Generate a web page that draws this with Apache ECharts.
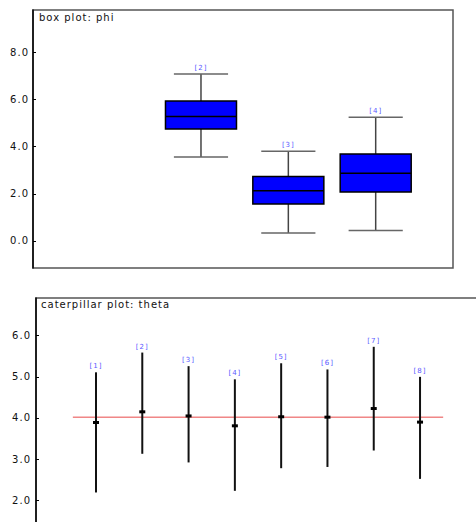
<!DOCTYPE html>
<html><head><meta charset="utf-8">
<script src="https://cdn.jsdelivr.net/npm/echarts@6/dist/echarts.min.js"></script>
<style>
html,body{margin:0;padding:0;background:#fff;}
#c{width:476px;height:522px;}
#c text{letter-spacing:1px;}
</style></head><body><div id="c"></div>
<script>
// box plot: phi
const boxIds = [2, 3, 4];
const boxLow = [3.56, 0.34, 0.44];
const boxQ1 = [4.75, 1.57, 2.08];
const boxMed = [5.28, 2.13, 2.87];
const boxQ3 = [5.93, 2.73, 3.69];
const boxHigh = [7.08, 3.80, 5.24];
const boxTicks = [0, 2, 4, 6, 8];

// caterpillar plot: theta
const catIds = [1, 2, 3, 4, 5, 6, 7, 8];
const catMean = [3.89, 4.15, 4.05, 3.81, 4.03, 4.02, 4.23, 3.90];
const catLow = [2.19, 3.13, 2.92, 2.23, 2.78, 2.81, 3.21, 2.52];
const catHigh = [5.11, 5.59, 5.26, 4.94, 5.33, 5.18, 5.73, 5.00];
const catTicks = [2, 3, 4, 5, 6];
const overallMean = 4.02;

const FONT = 'DejaVu Sans';
const LABEL_BLUE = '#5a5aff';

const chart = echarts.init(document.getElementById('c'), null, {renderer: 'svg'});

function renderBox(params, api) {
  const x = api.value(0);
  const pLow = api.coord([x, api.value(1)]);
  const pQ1 = api.coord([x, api.value(2)]);
  const pMed = api.coord([x, api.value(3)]);
  const pQ3 = api.coord([x, api.value(4)]);
  const pHigh = api.coord([x, api.value(5)]);
  const bw = api.size([0.813, 0])[0];
  const cw = api.size([0.62, 0])[0];
  const cx = pMed[0];
  return {type: 'group', children: [
    {type: 'line', shape: {x1: cx, y1: pHigh[1], x2: cx, y2: pQ3[1]}, style: {stroke: '#444', lineWidth: 1.5}},
    {type: 'line', shape: {x1: cx, y1: pQ1[1], x2: cx, y2: pLow[1]}, style: {stroke: '#444', lineWidth: 1.5}},
    {type: 'line', shape: {x1: cx - cw / 2, y1: pHigh[1], x2: cx + cw / 2, y2: pHigh[1]}, style: {stroke: '#666', lineWidth: 1.5}},
    {type: 'line', shape: {x1: cx - cw / 2, y1: pLow[1], x2: cx + cw / 2, y2: pLow[1]}, style: {stroke: '#666', lineWidth: 1.5}},
    {type: 'rect', shape: {x: cx - bw / 2, y: pQ3[1], width: bw, height: pQ1[1] - pQ3[1]}, style: {fill: '#0000ff', stroke: '#000', lineWidth: 1.5}},
    {type: 'line', shape: {x1: cx - bw / 2, y1: pMed[1], x2: cx + bw / 2, y2: pMed[1]}, style: {stroke: '#000', lineWidth: 1.5}},
    {type: 'text', style: {text: '[' + x + ']', x: cx, y: pHigh[1] - 6, align: 'center', verticalAlign: 'middle', fontSize: 7, fill: LABEL_BLUE, fontFamily: FONT}}
  ]};
}

function renderCat(params, api) {
  const x = api.value(0);
  const pMean = api.coord([x, api.value(1)]);
  const pLow = api.coord([x, api.value(2)]);
  const pHigh = api.coord([x, api.value(3)]);
  const cx = pMean[0];
  return {type: 'group', children: [
    {type: 'line', shape: {x1: cx, y1: pHigh[1], x2: cx, y2: pLow[1]}, style: {stroke: '#111', lineWidth: 2}},
    {type: 'rect', shape: {x: cx - 3, y: pMean[1] - 1.5, width: 6, height: 3}, style: {fill: '#000'}},
    {type: 'text', style: {text: '[' + x + ']', x: cx, y: pHigh[1] - 6, align: 'center', verticalAlign: 'middle', fontSize: 7, fill: LABEL_BLUE, fontFamily: FONT}}
  ]};
}

function yAxisCfg(gi, min, max, ticks, margin) {
  return {
    type: 'value', gridIndex: gi, min: min, max: max,
    axisLine: {show: true, onZero: false, lineStyle: {color: '#000', width: 1.5}},
    axisTick: {show: true, inside: true, length: 3, customValues: ticks, lineStyle: {color: '#000'}},
    axisLabel: {customValues: ticks, formatter: v => v.toFixed(1), margin: margin, fontSize: 10, color: '#111', fontFamily: FONT},
    splitLine: {show: false}
  };
}

const option = {
  animation: false,
  backgroundColor: '#fff',
  title: [
    {text: 'box plot: phi', left: 39, top: 12, padding: 0, textStyle: {fontSize: 10, fontWeight: 'normal', color: '#111', fontFamily: FONT}},
    {text: 'caterpillar plot: theta', left: 41, top: 299, padding: 0, textStyle: {fontSize: 10, fontWeight: 'normal', color: '#111', fontFamily: FONT}}
  ],
  grid: [
    {left: 33, top: 10, right: 23, bottom: 254, show: true, borderColor: '#555', borderWidth: 1.5, outerBoundsMode: 'none', containLabel: false},
    {left: 36, top: 298, right: -5, bottom: -5, show: true, borderColor: '#555', borderWidth: 1.5, outerBoundsMode: 'none', containLabel: false}
  ],
  xAxis: [
    {type: 'value', gridIndex: 0, min: 0.077, max: 4.885, show: false},
    {type: 'value', gridIndex: 1, min: -0.296, max: 9.317, show: false}
  ],
  yAxis: [
    yAxisCfg(0, -1.145, 9.79, boxTicks, 4),
    yAxisCfg(1, 1.351, 6.916, catTicks, 5)
  ],
  series: [
    {
      type: 'custom', xAxisIndex: 0, yAxisIndex: 0, renderItem: renderBox, z: 3,
      encode: {x: 0, y: [1, 2, 3, 4, 5]},
      data: boxIds.map((id, i) => [id, boxLow[i], boxQ1[i], boxMed[i], boxQ3[i], boxHigh[i]])
    },
    {
      type: 'line', xAxisIndex: 1, yAxisIndex: 1, symbol: 'none', z: 1,
      lineStyle: {color: '#e84a4a', width: 1},
      data: [[catIds[0] - 0.5, overallMean], [catIds[catIds.length - 1] + 0.5, overallMean]]
    },
    {
      type: 'custom', xAxisIndex: 1, yAxisIndex: 1, renderItem: renderCat, z: 3,
      encode: {x: 0, y: [1, 2, 3]},
      data: catIds.map((id, i) => [id, catMean[i], catLow[i], catHigh[i]])
    }
  ]
};
chart.setOption(option);
</script></body></html>
